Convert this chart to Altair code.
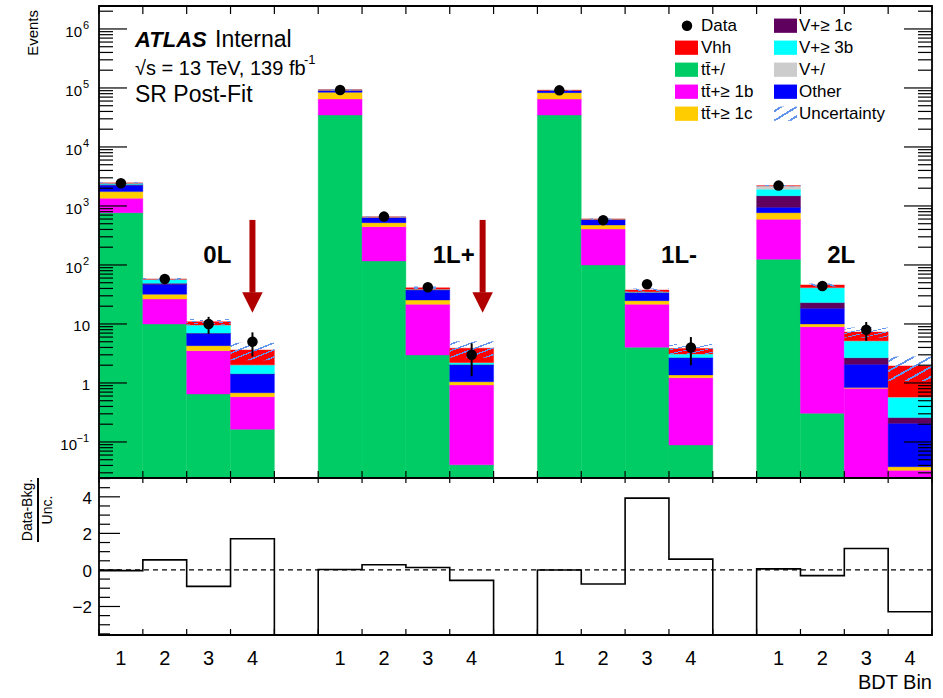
import altair as alt
import pandas as pd

# ---------------- values ----------------
regions = ["0L", "1L+", "1L-", "2L"]
bdt_bins = ["1", "2", "3", "4"]

# stacking order, bottom to top
proc_names = ["tt+l", "tt+>=1b", "tt+>=1c", "Other", "V+>=1c", "V+>=3b", "V+l", "Vhh"]
proc_colors = ["#00cc66", "#ff00ff", "#ffcc00", "#0000ff", "#5f005f", "#00ffff", "#cccccc", "#ff0000"]

# per-bin yields: 0L 1-4, 1L+ 1-4, 1L- 1-4, 2L 1-4
ttl   = [770, 10.0, 0.65, 0.164, 34800, 117, 2.98, 0.041, 34800, 100, 4.03, 0.089, 125, 0.306, 0.015, 0.005]
tt1b  = [580, 16.5, 2.88, 0.42, 30400, 329, 18.5, 0.884, 30000, 307, 17.5, 1.14, 470, 8.7, 0.795, 0.028]
tt1c  = [400, 5.4, 0.76, 0.10, 19100, 75, 4.0, 0.125, 18500, 69, 3.3, 0.14, 175, 1.0, 0.03, 0.005]
other = [500, 15.0, 2.66, 0.735, 7200, 115, 12.2, 0.97, 7000, 110, 9.2, 1.31, 180, 8.5, 1.23, 0.169]
v1c   = [50, 2.0, 0.06, 0.02, 300, 5, 0.3, 0.03, 300, 4, 0.3, 0.02, 545, 4.5, 0.61, 0.052]
v3b   = [120, 8.0, 2.6, 0.58, 200, 5, 0.8, 0.16, 200, 4, 0.6, 0.40, 425, 18.1, 2.47, 0.312]
vl    = [20, 0.2, 0.02, 0.01, 200, 3, 0.1, 0.01, 200, 2, 0.1, 0.01, 280, 0.2, 0.05, 0.005]
vhh   = [10, 0.3, 1.3, 1.59, 50, 1, 2.1, 1.66, 50, 1, 2.6, 0.72, 5, 4.5, 2.08, 1.37]

data_obs = [2420, 58, 10, 5, 92300, 660, 42, 3, 91100, 575, 47, 4, 2215, 44, 8, 0]
data_err = [49, 7.6, 3.2, 2.2, 304, 26, 6.5, 1.7, 302, 24, 6.9, 2.0, 47, 6.6, 2.8, 0]
bkg_unc  = [70, 2.5, 1.2, 1.2, 1500, 15, 2.0, 1.2, 1500, 15, 2.2, 0.75, 70, 2.5, 1.45, 0.87]
pulls    = [-0.04, 0.55, -0.9, 1.71, 0.02, 0.28, 0.13, -0.57, 0.0, -0.77, 3.93, 0.59, 0.06, -0.31, 1.17, -2.29]

legend_col1 = ["Data", "Vhh", "tt\u0304+/", "tt\u0304+\u2265 1b", "tt\u0304+\u2265 1c"]
legend_col2 = ["V+\u2265 1c", "V+\u2265 3b", "V+/", "Other", "Uncertainty"]
legend_col1_colors = ["#000000", "#ff0000", "#00cc66", "#ff00ff", "#ffcc00"]
legend_col2_colors = ["#5f005f", "#00ffff", "#cccccc", "#0000ff", "hatch"]

atlas_bold = "ATLAS"
atlas_text = "Internal"
energy_text = "\u221as = 13 TeV, 139 fb"
energy_sup = "-1"
region_text = "SR Post-Fit"
arrow_bins = [3, 7]            # bins flagged with an arrow (0L bin 4, 1L+ bin 4)
arrow_shift = [0.0, 0.25]
arrow_top, arrow_base, arrow_tip = 580, 34, 15.8

main_major = [0.1, 1, 10, 100, 1e3, 1e4, 1e5, 1e6]
main_major_base = ["10", "1", "10", "10", "10", "10", "10", "10"]
main_major_exp = ["\u22121", "", "", "2", "3", "4", "5", "6"]
ratio_major = [-2, 0, 2, 4]
ratio_labels = ["\u22122", "0", "2", "4"]

# ---------------- layout / style ----------------
FONT = "Liberation Sans"
W, H, MH = 833, 629, 472
Y_MIN, Y_MAX = 0.0245, 2.45e6
R_MIN, R_MAX = -3.56, 5.03
HATCH = "#6495ed"
CLEAR = "rgba(100,149,237,0)"
ARROW = "#b00000"

xs = alt.Scale(domain=[0, 19], nice=False, zero=False)
ys = alt.Scale(type="log", domain=[Y_MIN, Y_MAX], range=[MH, 0], clamp=True, nice=False)
rs = alt.Scale(domain=[R_MIN, R_MAX], range=[H, MH], nice=False, zero=False)


def hatch(n, hw):
    stops = [alt.GradientStop(offset=0, color=CLEAR)]
    for i in range(n):
        c = (i + 0.5) / n
        stops += [alt.GradientStop(offset=c - hw, color=CLEAR),
                  alt.GradientStop(offset=c - hw, color=HATCH),
                  alt.GradientStop(offset=c + hw, color=HATCH),
                  alt.GradientStop(offset=c + hw, color=CLEAR)]
    stops.append(alt.GradientStop(offset=1, color=CLEAR))
    return alt.LinearGradient(gradient="linear", stops=stops, x1=0, y1=0, x2=1, y2=1)


def bin_left(i):
    g, b = divmod(i, 4)
    return g * 5 + b


series = [ttl, tt1b, tt1c, other, v1c, v3b, vl, vhh]
rows, tot = [], []
for i in range(16):
    cum = 0.0
    x0 = bin_left(i)
    for p, vals in zip(proc_names, series):
        lo = cum
        cum += vals[i]
        rows.append(dict(proc=p, x0=x0, x1=x0 + 1, lo=max(lo, Y_MIN), hi=cum))
    tot.append(cum)
df_stack = pd.DataFrame(rows)

df_unc = pd.DataFrame(dict(
    x0=[bin_left(i) for i in range(16)],
    x1=[bin_left(i) + 1 for i in range(16)],
    lo=[max(t - u, Y_MIN) for t, u in zip(tot, bkg_unc)],
    hi=[t + u for t, u in zip(tot, bkg_unc)]))

df_pts = pd.DataFrame(dict(
    xc=[bin_left(i) + 0.5 for i in range(16)],
    obs=data_obs,
    lo=[max(d - e, Y_MIN) for d, e in zip(data_obs, data_err)],
    hi=[d + e for d, e in zip(data_obs, data_err)]))
df_pts = df_pts[df_pts.obs > 0]

# ratio step line over all 19 slots, empty slots sit below the frame
step_vals = [R_MIN - 10] * 19
for i in range(16):
    step_vals[bin_left(i)] = pulls[i]
df_step = pd.DataFrame(dict(e=list(range(20)), v=step_vals + [step_vals[-1]]))

X = lambda f: alt.X(f, type="quantitative", scale=xs, axis=None)
YM = lambda f: alt.Y(f, type="quantitative", scale=ys, axis=None)
YR = lambda f: alt.Y(f, type="quantitative", scale=rs, axis=None)
one = pd.DataFrame({"a": [0]})

layers = []

# stacked backgrounds
layers.append(alt.Chart(df_stack).mark_rect(strokeWidth=0.4).encode(
    x=X("x0"), x2="x1", y=YM("lo"), y2="hi",
    color=alt.Color("proc:N", scale=alt.Scale(domain=proc_names, range=proc_colors), legend=None),
    stroke=alt.Stroke("proc:N", scale=alt.Scale(domain=proc_names, range=proc_colors), legend=None)))

# uncertainty hatch
layers.append(alt.Chart(df_unc).mark_rect(fill=hatch(5, 0.022), strokeWidth=0).encode(
    x=X("x0"), x2="x1", y=YM("lo"), y2="hi"))

# data
layers.append(alt.Chart(df_pts).mark_rule(color="black", strokeWidth=2).encode(
    x=X("xc"), y=YM("lo"), y2="hi"))
layers.append(alt.Chart(df_pts).mark_point(filled=True, color="black", size=110, opacity=1).encode(
    x=X("xc"), y=YM("obs")))

# arrows
df_arrow = pd.DataFrame(dict(x=[bin_left(b) + 0.5 + s for b, s in zip(arrow_bins, arrow_shift)],
                             top=[arrow_top] * len(arrow_bins),
                             base=[arrow_base] * len(arrow_bins),
                             mid=[(arrow_base * arrow_tip) ** 0.5] * len(arrow_bins)))
layers.append(alt.Chart(df_arrow).mark_rule(color=ARROW, strokeWidth=6).encode(
    x=X("x"), y=YM("top"), y2="base"))
layers.append(alt.Chart(df_arrow).mark_point(shape="M-1,-1L1,-1L0,1Z", filled=True, color=ARROW,
                                             size=420, opacity=1).encode(x=X("x"), y=YM("mid")))

# region labels
region_off = [2.70, 3.09, 3.23, 1.93]
df_reg = pd.DataFrame(dict(t=regions, x=[g * 5 + o for g, o in enumerate(region_off)], y=[140] * 4))
layers.append(alt.Chart(df_reg).mark_text(font=FONT, fontSize=24, fontWeight="bold",
                                          align="center", baseline="middle").encode(
    x=X("x"), y=YM("y"), text="t:N"))

# ratio panel
layers.append(alt.Chart(pd.DataFrame({"v": [0]})).mark_rule(color="black", strokeWidth=1.3,
                                                            strokeDash=[5, 4]).encode(
    y=YR("v"), x=alt.value(0), x2=alt.value(W)))
layers.append(alt.Chart(df_step).mark_line(interpolate="step-after", color="black",
                                           strokeWidth=1.6, clip=True).encode(
    x=X("e"), y=YR("v")))

# ticks -- main panel
minor = []
for k in range(-2, 7):
    for m in range(2, 10):
        v = m * 10 ** k
        if Y_MIN < v < Y_MAX:
            minor.append(v)
df_mj = pd.DataFrame({"v": main_major})
df_mn = pd.DataFrame({"v": minor})
for df, ln in ((df_mj, 28), (df_mn, 14)):
    layers.append(alt.Chart(df).mark_rule(color="black", strokeWidth=1.2).encode(
        y=YM("v"), x=alt.value(0), x2=alt.value(ln)))
    layers.append(alt.Chart(df).mark_rule(color="black", strokeWidth=1.2).encode(
        y=YM("v"), x=alt.value(W - ln), x2=alt.value(W)))
df_edges = pd.DataFrame({"e": list(range(20))})
for y0, y1 in ((MH - 7, MH), (0, 8), (H - 6, H), (MH, MH + 5)):
    layers.append(alt.Chart(df_edges).mark_rule(color="black", strokeWidth=1.2).encode(
        x=X("e"), y=alt.value(y0), y2=alt.value(y1)))

# ticks -- ratio panel
r_minor = [x / 2 for x in range(-7, 11) if x % 4 != 0]
for vals, ln in ((ratio_major, 21), (r_minor, 11)):
    layers.append(alt.Chart(pd.DataFrame({"v": vals})).mark_rule(color="black", strokeWidth=1.2).encode(
        y=YR("v"), x=alt.value(0), x2=alt.value(ln)))

# frames
for y0, y1 in ((0, MH), (MH, H)):
    layers.append(alt.Chart(one).mark_rect(fillOpacity=0, stroke="black", strokeWidth=1.8).encode(
        x=alt.value(0), x2=alt.value(W), y=alt.value(y0), y2=alt.value(y1)))

# axis labels -- main y
df_lab = pd.DataFrame(dict(v=main_major, base=main_major_base, exp=main_major_exp))
df_lab["kind"] = ["long" if len(e) > 1 else ("short" if e else "none") for e in df_lab.exp]
for kind, xr in (("none", -9), ("short", -17), ("long", -22)):
    sub = df_lab[df_lab.kind == kind]
    layers.append(alt.Chart(sub).mark_text(font=FONT, fontSize=15, align="right", baseline="middle",
                                           dy=3 if kind != "none" else 2).encode(
        y=YM("v"), x=alt.value(xr), text="base:N"))
sub = df_lab[df_lab.kind != "none"]
layers.append(alt.Chart(sub).mark_text(font=FONT, fontSize=11, align="right", baseline="middle",
                                       dy=-3).encode(y=YM("v"), x=alt.value(-10), text="exp:N"))
# ratio y labels
layers.append(alt.Chart(pd.DataFrame(dict(v=ratio_major, t=ratio_labels))).mark_text(
    font=FONT, fontSize=17, align="right", baseline="middle", dy=2).encode(
    y=YR("v"), x=alt.value(-7), text="t:N"))
# x labels
df_xl = pd.DataFrame(dict(xc=[bin_left(i) + 0.5 for i in range(16)], t=bdt_bins * 4))
layers.append(alt.Chart(df_xl).mark_text(font=FONT, fontSize=20, baseline="middle").encode(
    x=X("xc"), y=alt.value(653), text="t:N"))


def label(text, x, y, **kw):
    params = dict(font=FONT, align="left", baseline="alphabetic")
    params.update(kw)
    return alt.Chart(pd.DataFrame({"t": [text]})).mark_text(**params).encode(
        x=alt.value(x), y=alt.value(y), text="t:N")


layers.append(label("BDT Bin", W, 677, align="right", baseline="middle", fontSize=20))
layers.append(label("Events", -66.5, 4, align="right", baseline="middle", angle=270, fontSize=15))
layers.append(label("Data-Bkg.", -71.5, 504, align="center", baseline="middle", angle=270, fontSize=14))
layers.append(label("Unc.", -51, 504, align="center", baseline="middle", angle=270, fontSize=14))
layers.append(alt.Chart(one).mark_rule(color="black", strokeWidth=2).encode(
    x=alt.value(-61), y=alt.value(472), y2=alt.value(536)))

layers.append(label(atlas_bold, 36, 41, fontSize=22, fontWeight="bold", fontStyle="italic"))
layers.append(label(atlas_text, 116, 41, fontSize=23))
layers.append(label(energy_text, 36, 69, fontSize=20))
layers.append(label(energy_sup, 205, 58, fontSize=13))
layers.append(label(region_text, 36, 96, fontSize=23))

# legend
ly = alt.Scale(domain=[0, 4], range=[19.7, 107.7])
rect_shape = "M-1,-0.62L1,-0.62L1,0.62L-1,0.62Z"
df_l1 = pd.DataFrame(dict(r=list(range(5)), t=legend_col1, c=legend_col1_colors))
df_l2 = pd.DataFrame(dict(r=list(range(5)), t=legend_col2, c=legend_col2_colors))
YL = alt.Y("r:Q", scale=ly, axis=None)
layers.append(alt.Chart(df_l1[df_l1.r == 0]).mark_point(filled=True, color="black", size=110, opacity=1).encode(
    x=alt.value(588), y=YL))
layers.append(alt.Chart(df_l1[df_l1.r > 0]).mark_point(shape=rect_shape, filled=True, size=530, opacity=1,
                                                       strokeWidth=0).encode(
    x=alt.value(587.5), y=YL, color=alt.Color("c:N", scale=None)))
layers.append(alt.Chart(df_l2[df_l2.r < 4]).mark_point(shape=rect_shape, filled=True, size=530, opacity=1,
                                                       strokeWidth=0).encode(
    x=alt.value(686.5), y=YL, color=alt.Color("c:N", scale=None)))
layers.append(alt.Chart(df_l2[df_l2.r == 4]).mark_point(shape=rect_shape, filled=True, size=530, opacity=1,
                                                        strokeWidth=0, fill=hatch(3, 0.04)).encode(
    x=alt.value(686.5), y=YL))
for df, xt in ((df_l1, 602), (df_l2, 700)):
    layers.append(alt.Chart(df).mark_text(font=FONT, fontSize=17, align="left", baseline="middle").encode(
        x=alt.value(xt), y=YL, text="t:N"))

chart = alt.layer(*layers).resolve_scale(y="independent").properties(
    width=W, height=H,
    padding={"left": 99, "top": 6, "right": 11, "bottom": 63},
    autosize=alt.AutoSizeParams(type="none"),
).configure_view(stroke=None)

chart.save("out.html", embed_options={"renderer": "svg", "actions": False})
